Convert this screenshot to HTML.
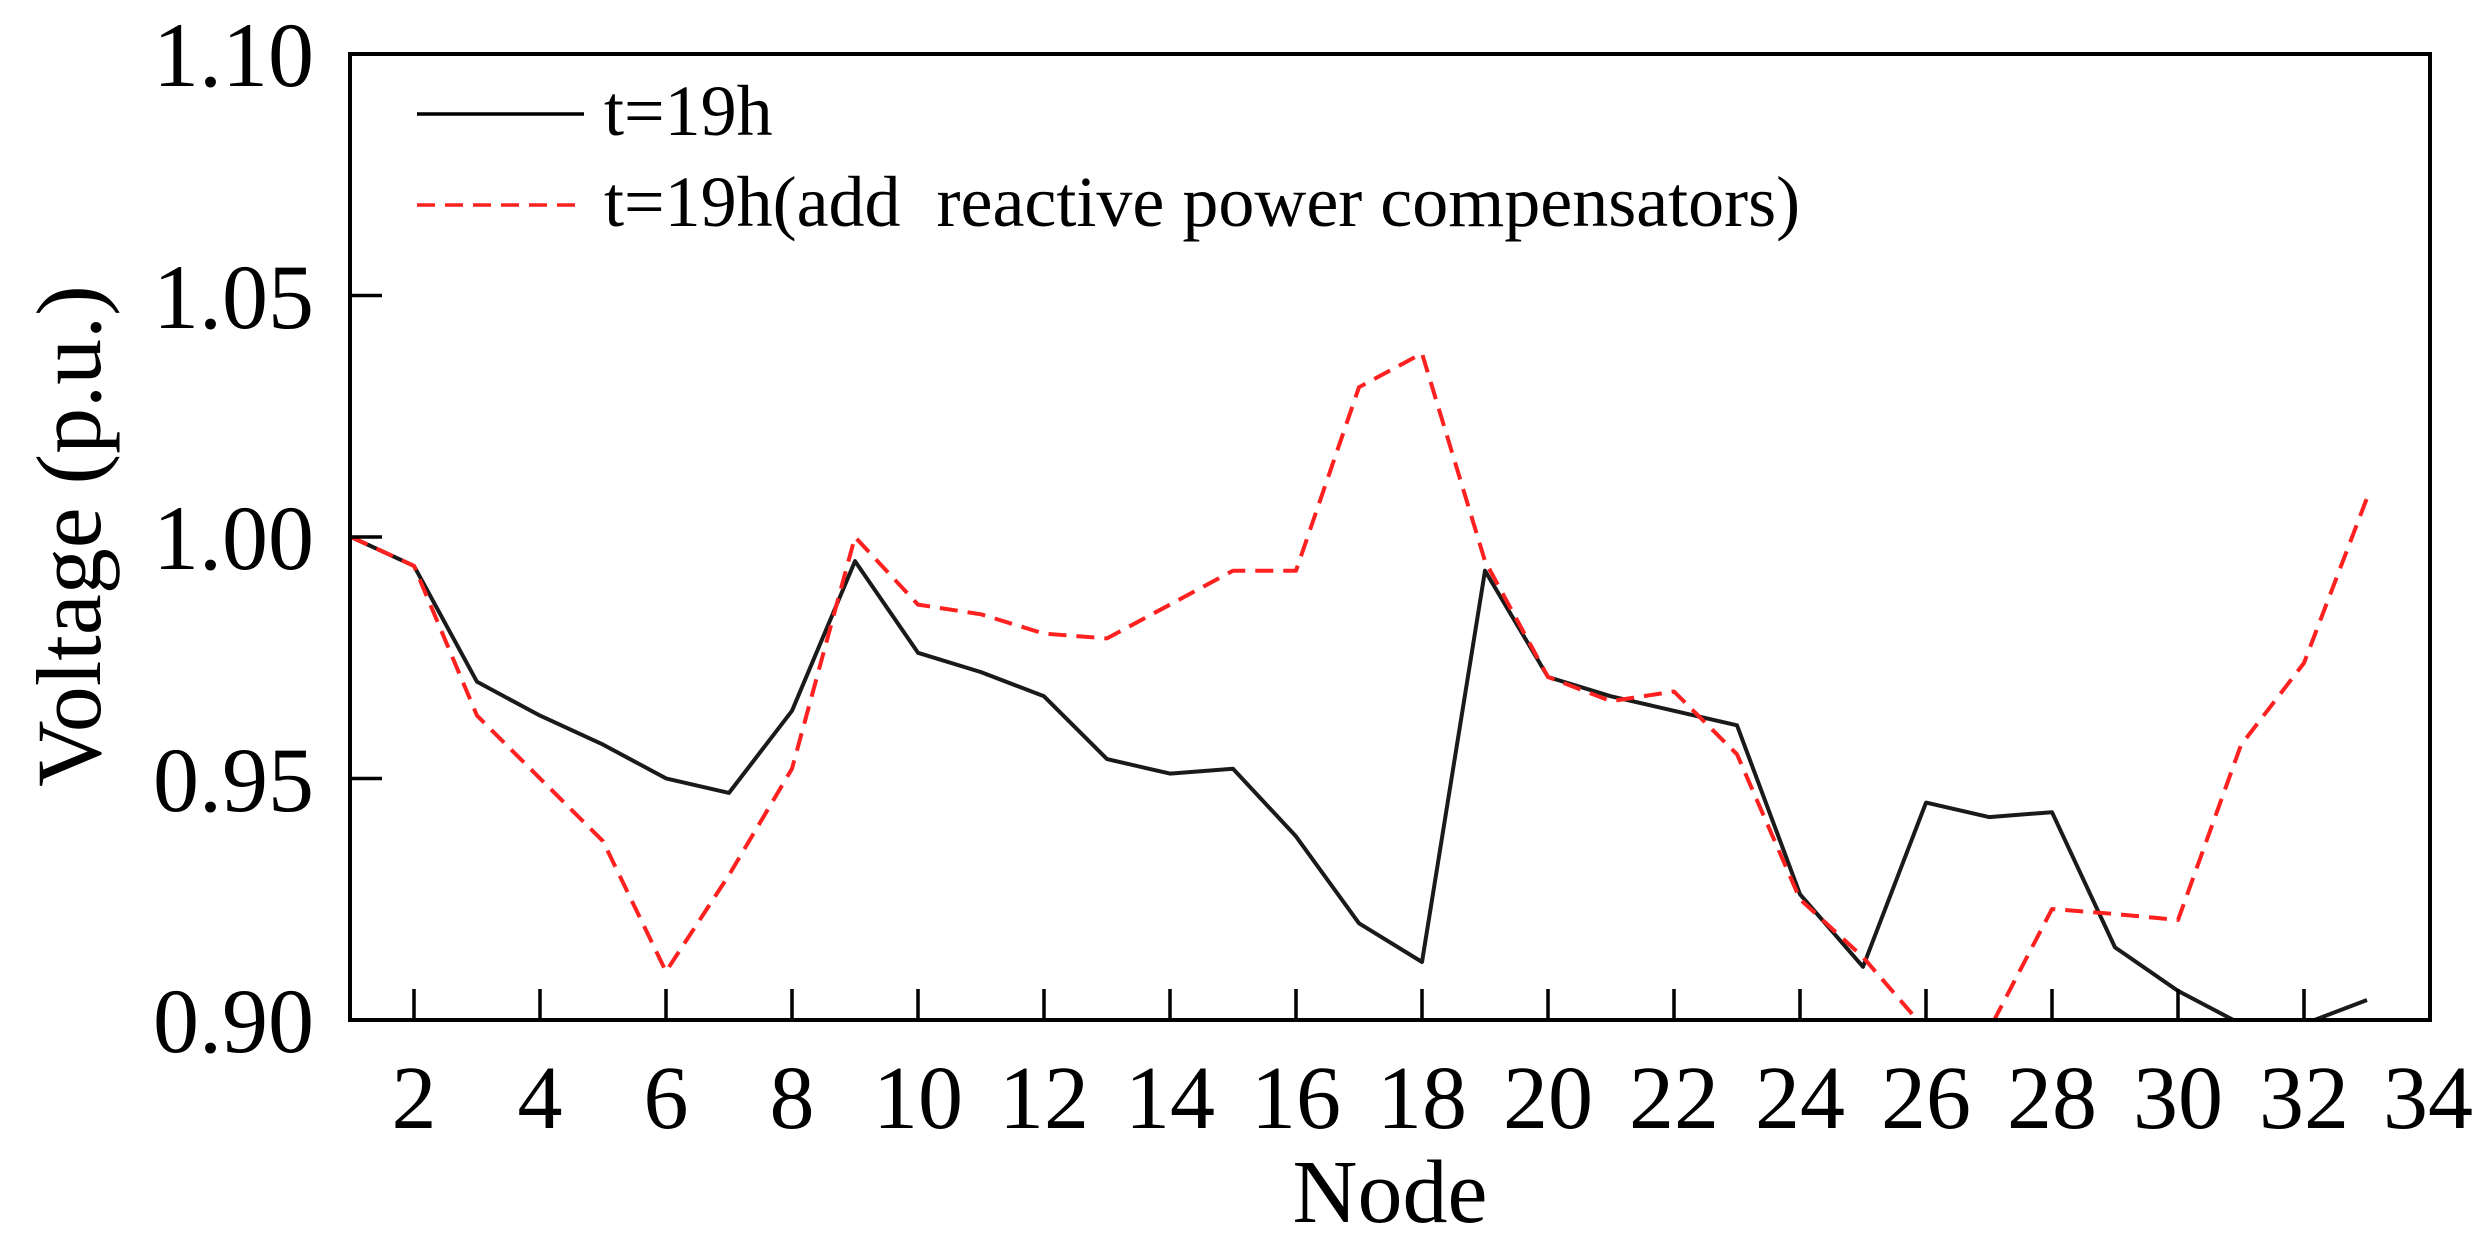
<!DOCTYPE html>
<html><head><meta charset="utf-8"><style>
html,body{margin:0;padding:0;background:#fff;}
svg{display:block;}
text{font-family:"Liberation Serif",serif;fill:#000;}
</style></head><body>
<svg width="2490" height="1250" viewBox="0 0 2490 1250" xmlns="http://www.w3.org/2000/svg">
<defs><clipPath id="c"><rect x="350" y="54" width="2080" height="966"/></clipPath></defs>
<g id="plot" clip-path="url(#c)">
<polyline fill="none" stroke="#1a1a1a" stroke-width="4" stroke-linejoin="round" points="
351,537.0 414,565.9 477,681.8 540,715.6 603,744.6 666,778.4 729,792.9 792,710.8 855,561.1 918,652.8 981,672.1 1044,696.3 1107,759.1 1170,773.6 1233,768.7 1296,836.4 1359,923.3 1422,962.0 1485,570.7 1548,677.0 1611,696.3 1674,710.8 1737,725.3 1800,894.3 1863,966.8 1926,802.6 1989,817.1 2052,812.2 2115,947.4 2178,990.9 2241,1024 2304,1024 2367,1000"/>
<polyline fill="none" stroke="#ff2020" stroke-width="4" stroke-dasharray="18,10" stroke-linejoin="round" points="
351,537.0 414,565.9 477,715.6 540,778.4 603,841.2 666,971.6 729,875.0 792,768.7 855,537.0 918,604.6 981,614.3 1044,633.6 1107,638.4 1170,604.6 1233,570.7 1296,570.7 1359,387.2 1422,353.4 1485,561.1 1548,677.0 1611,701.2 1674,691.5 1737,754.3 1800,899.2 1863,957.1 1926,1030 1989,1030 2052,909 2115,914 2178,920 2241,745 2304,663 2367,498"/>
</g>
<rect x="350" y="54" width="2080" height="966" fill="none" stroke="#000" stroke-width="4"/>
<g stroke="#000" stroke-width="3.5">
<line x1="350" y1="295.5" x2="382" y2="295.5"/>
<line x1="350" y1="537" x2="382" y2="537"/>
<line x1="350" y1="778.5" x2="382" y2="778.5"/>
<line x1="414" y1="1020" x2="414" y2="989"/>
<line x1="540" y1="1020" x2="540" y2="989"/>
<line x1="666" y1="1020" x2="666" y2="989"/>
<line x1="792" y1="1020" x2="792" y2="989"/>
<line x1="918" y1="1020" x2="918" y2="989"/>
<line x1="1044" y1="1020" x2="1044" y2="989"/>
<line x1="1170" y1="1020" x2="1170" y2="989"/>
<line x1="1296" y1="1020" x2="1296" y2="989"/>
<line x1="1422" y1="1020" x2="1422" y2="989"/>
<line x1="1548" y1="1020" x2="1548" y2="989"/>
<line x1="1674" y1="1020" x2="1674" y2="989"/>
<line x1="1800" y1="1020" x2="1800" y2="989"/>
<line x1="1926" y1="1020" x2="1926" y2="989"/>
<line x1="2052" y1="1020" x2="2052" y2="989"/>
<line x1="2178" y1="1020" x2="2178" y2="989"/>
<line x1="2304" y1="1020" x2="2304" y2="989"/>
</g>
<g font-size="92" text-anchor="end">
<text x="314" y="86">1.10</text>
<text x="314" y="328">1.05</text>
<text x="314" y="569">1.00</text>
<text x="314" y="811">0.95</text>
<text x="314" y="1052">0.90</text>
</g>
<g font-size="90" text-anchor="middle">
<text x="414" y="1128">2</text><text x="540" y="1128">4</text><text x="666" y="1128">6</text>
<text x="792" y="1128">8</text><text x="918" y="1128">10</text><text x="1044" y="1128">12</text>
<text x="1170" y="1128">14</text><text x="1296" y="1128">16</text><text x="1422" y="1128">18</text>
<text x="1548" y="1128">20</text><text x="1674" y="1128">22</text><text x="1800" y="1128">24</text>
<text x="1926" y="1128">26</text><text x="2052" y="1128">28</text><text x="2178" y="1128">30</text>
<text x="2304" y="1128">32</text><text x="2428" y="1128">34</text>
<text x="1390" y="1222">Node</text>
</g>
<text font-size="92" text-anchor="middle" transform="translate(100,536) rotate(-90)">Voltage (p.u.)</text>
<line x1="417" y1="114" x2="584" y2="114" stroke="#000" stroke-width="3.5"/>
<text x="604" y="135" font-size="72">t=19h</text>
<line x1="417" y1="205" x2="584" y2="205" stroke="#ff2020" stroke-width="3.5" stroke-dasharray="18,10"/>
<text x="604" y="226" font-size="72" xml:space="preserve">t=19h(add  reactive power compensators)</text>
</svg>
</body></html>
